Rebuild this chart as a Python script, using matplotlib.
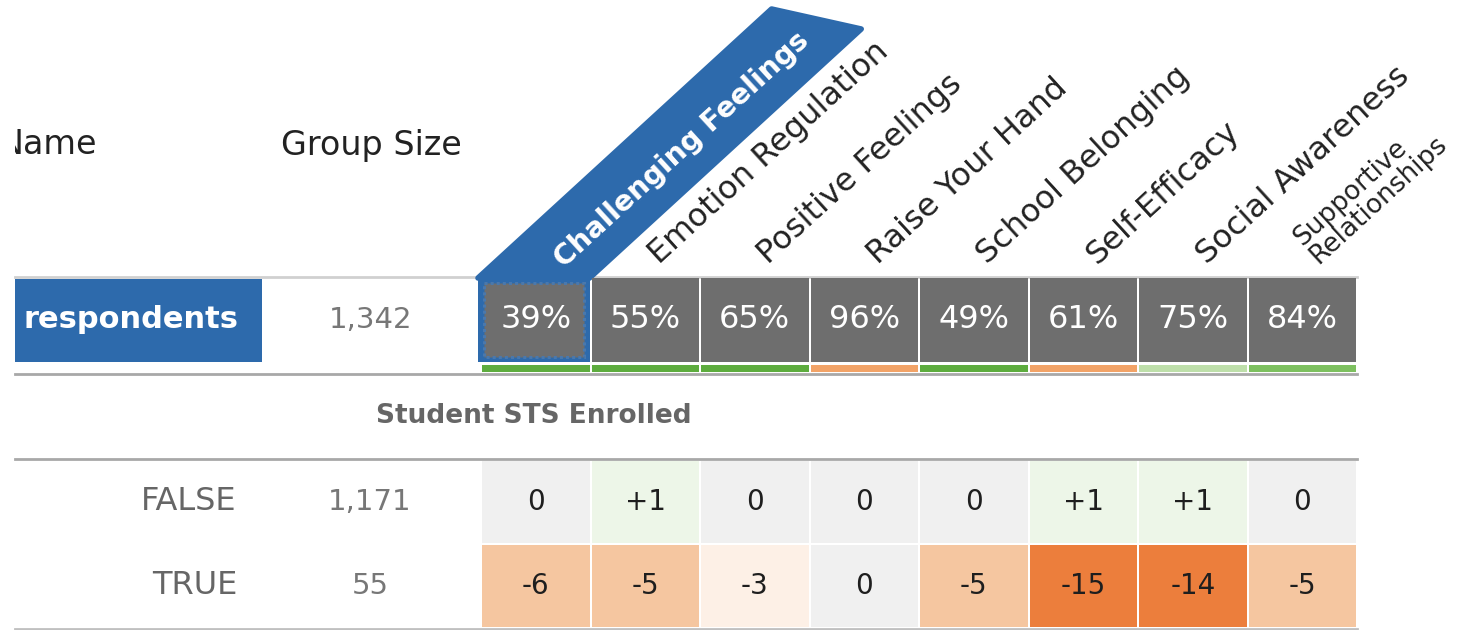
import numpy as np
import matplotlib
matplotlib.use("Agg")
import matplotlib.pyplot as plt
from matplotlib.patches import Rectangle, Polygon
from matplotlib.transforms import Bbox, TransformedBbox

# ---------------- data ----------------
metrics = ["Challenging Feelings", "Emotion Regulation", "Positive Feelings",
           "Raise Your Hand", "School Belonging", "Self-Efficacy",
           "Social Awareness", "Supportive\nRelationships"]
overall_label = "respondents"
overall_size = "1,342"
overall_pct = [39, 55, 65, 96, 49, 61, 75, 84]
overall_status = ["high", "high", "high", "low", "high", "low", "mid", "midhigh"]
group_title = "Student STS Enrolled"
group_labels = ["FALSE", "TRUE"]
group_sizes = ["1,171", "55"]
group_diffs = [
    [0, 1, 0, 0, 0, 1, 1, 0],
    [-6, -5, -3, 0, -5, -15, -14, -5],
]
selected_metric = 0

# ---------------- style ----------------
FONT = "DejaVu Sans"
BLUE = "#2D6AAC"
CELL_GRAY = "#6E6E6E"
STATUS_COL = {"high": "#5DAC3E", "low": "#F2A367", "mid": "#BEDFAA", "midhigh": "#7DC05F"}


def diff_color(v):
    if v >= 1:
        return "#EDF6E8"
    if v == 0:
        return "#F0F0F0"
    if v >= -3:
        return "#FDF0E6"
    if v >= -9:
        return "#F5C6A0"
    return "#EC7E3C"


W, H = 1460, 630
fig = plt.figure(figsize=(W / 100, H / 100), dpi=100)
ax = fig.add_axes([0, 0, 1, 1])
ax.set_xlim(0, W)
ax.set_ylim(H, 0)
ax.axis("off")

x_left_table = 15
x0 = 481
cw = (1357 - x0) / len(metrics)
gap = 2
x_end = x0 + cw * len(metrics)
ang = 42.5
t = np.tan(np.radians(ang))

# header (the table view is cut at x=15, like the reference)
nm = ax.text(-1, 145, "Name", ha="left", va="center", fontsize=24, color="#222", family=FONT)
nm.set_clip_on(True)
nm.set_clip_box(TransformedBbox(Bbox([[x_left_table, 0], [W, H]]), ax.transData))
ax.text(371, 145, "Group Size", ha="center", va="center", fontsize=24, color="#222", family=FONT)

# highlighted band for selected metric
r1_top, r1_bot = 278, 362
bx0 = x0 + selected_metric * cw - 3
bx1 = bx0 + cw + 2
ytl, ytr = 9, 29
band = Polygon([(bx0, r1_top), (bx1, r1_top), (bx1 + (r1_top - ytr) / t, ytr),
                (bx0 + (r1_top - ytl) / t, ytl)], closed=True,
               facecolor=BLUE, edgecolor=BLUE, lw=4, joinstyle="round", zorder=2)
ax.add_patch(band)

# metric labels
for i, m in enumerate(metrics):
    cx = x0 + cw * (i + 0.5)
    if i == selected_metric:
        yc = 150
        xc = cx + (r1_top - yc) / t + 6
        ax.text(xc, yc, m, rotation=ang, rotation_mode="anchor", ha="center", va="center",
                fontsize=20.5, fontweight="bold", color="white", family=FONT, zorder=3)
    elif "\n" in m:
        ax.text(cx + 18, 266, m, rotation=ang, rotation_mode="anchor", ha="left",
                va="baseline", fontsize=19, color="#222", family=FONT,
                linespacing=0.88, multialignment="left")
    else:
        ax.text(cx + 14, 265, m, rotation=ang, rotation_mode="anchor", ha="left",
                va="baseline", fontsize=23, color="#222", family=FONT)

# lines
ax.plot([x_left_table, x_end], [276.5, 276.5], color="#D0D0D0", lw=2, zorder=1)
ax.plot([x_left_table, x_end], [374, 374], color="#A8A8A8", lw=2, zorder=1)
ax.plot([x_left_table, x_end], [459, 459], color="#A8A8A8", lw=2, zorder=1)
ax.plot([x_left_table, x_end], [628.5, 628.5], color="#C0C0C0", lw=2, zorder=1)

# overall row
ax.add_patch(Rectangle((x_left_table, 279), 262 - x_left_table, r1_bot - 279,
                       facecolor=BLUE, edgecolor="none", zorder=2))
ax.text(238, 320, overall_label, ha="right", va="center", fontsize=22, fontweight="bold",
        color="white", family=FONT, zorder=3)
ax.text(371, 320, overall_size, ha="center", va="center", fontsize=21, color="#777",
        family=FONT)

for i, (p, s) in enumerate(zip(overall_pct, overall_status)):
    cx0 = x0 + cw * i
    if i == selected_metric:
        ax.add_patch(Rectangle((cx0 - 3, r1_top), cw + 2, r1_bot - r1_top,
                               facecolor=BLUE, edgecolor="none", zorder=2))
        ax.add_patch(Rectangle((cx0 + 3, r1_top + 5), cw - 10, r1_bot - r1_top - 10,
                               facecolor=CELL_GRAY, edgecolor="#4A78AC", lw=2.2,
                               linestyle=(0, (1.0, 1.0)), zorder=3))
    else:
        ax.add_patch(Rectangle((cx0 + gap / 2, r1_top), cw - gap, r1_bot - r1_top,
                               facecolor=CELL_GRAY, edgecolor="none", zorder=2))
    ax.add_patch(Rectangle((cx0 + gap / 2, 364.5), cw - gap, 7,
                           facecolor=STATUS_COL[s], edgecolor="none", zorder=2))
    ax.text(cx0 + cw / 2, 320, f"{p}%", ha="center", va="center", fontsize=23,
            color="white", family=FONT, zorder=4)

# group section
ax.text(534, 416, group_title, ha="center", va="center", fontsize=19, fontweight="bold",
        color="#666", family=FONT)

row_tops = [461, 545]
rh = 82
for r, (lab, sz, diffs) in enumerate(zip(group_labels, group_sizes, group_diffs)):
    yt = row_tops[r]
    yc = yt + rh / 2
    ax.text(237, yc, lab, ha="right", va="center", fontsize=23, color="#666", family=FONT)
    ax.text(370, yc, sz, ha="center", va="center", fontsize=21, color="#777", family=FONT)
    for i, v in enumerate(diffs):
        cx0 = x0 + cw * i
        ax.add_patch(Rectangle((cx0 + gap / 2, yt), cw - gap, rh,
                               facecolor=diff_color(v), edgecolor="none", zorder=2))
        txt = f"+{v}" if v > 0 else f"{v}"
        ax.text(cx0 + cw / 2, yc, txt, ha="center", va="center", fontsize=20,
                color="#1E1E1E", family=FONT, zorder=3)

fig.savefig("out.png", dpi=100)
